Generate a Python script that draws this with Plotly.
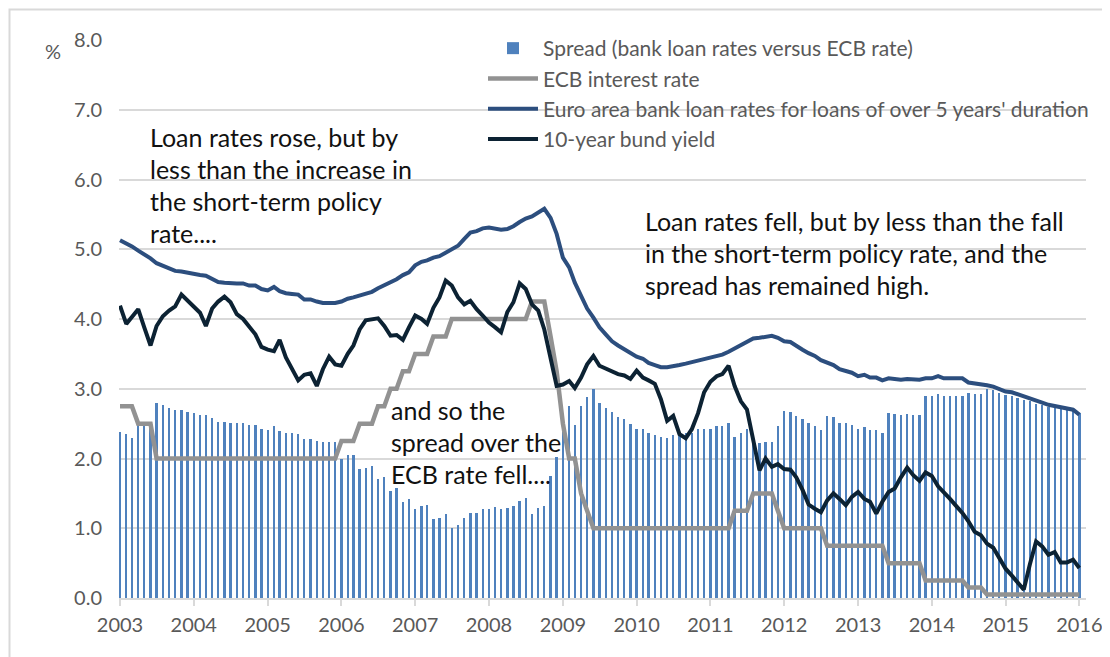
import pandas as pd
import plotly.graph_objects as go

# monthly observations, Jan 2003 - Jan 2016
months = pd.date_range("2003-01-01", periods=157, freq="MS")

spread = [
    2.38, 2.35, 2.30, 2.46, 2.49, 2.48, 2.80, 2.76, 2.72, 2.69, 2.69, 2.66,  # 2003
    2.65, 2.63, 2.62, 2.58, 2.53, 2.52, 2.51, 2.51, 2.51, 2.48, 2.48, 2.43,  # 2004
    2.41, 2.46, 2.40, 2.37, 2.36, 2.35, 2.28, 2.28, 2.25, 2.23, 2.23, 2.23,  # 2005
    2.00, 2.05, 2.05, 1.85, 1.87, 1.89, 1.70, 1.73, 1.53, 1.57, 1.38, 1.42,  # 2006
    1.27, 1.32, 1.33, 1.13, 1.15, 1.20, 1.00, 1.05, 1.15, 1.22, 1.22, 1.27,  # 2007
    1.27, 1.30, 1.28, 1.29, 1.32, 1.39, 1.44, 1.21, 1.29, 1.32, 1.75, 2.02,  # 2008
    2.38, 2.75, 2.48, 2.75, 2.88, 3.00, 2.80, 2.73, 2.67, 2.60, 2.56, 2.49,  # 2009
    2.43, 2.42, 2.36, 2.33, 2.31, 2.30, 2.33, 2.36, 2.37, 2.37, 2.42, 2.43,  # 2010
    2.43, 2.47, 2.47, 2.51, 2.31, 2.37, 2.42, 2.22, 2.22, 2.23, 2.24, 2.47,  # 2011
    2.68, 2.67, 2.61, 2.56, 2.51, 2.47, 2.41, 2.61, 2.59, 2.51, 2.51, 2.48,  # 2012
    2.43, 2.45, 2.41, 2.41, 2.37, 2.65, 2.64, 2.63, 2.64, 2.63, 2.63, 2.90,  # 2013
    2.90, 2.93, 2.90, 2.90, 2.90, 2.90, 2.94, 2.93, 2.92, 3.00, 2.98, 2.94,  # 2014
    2.91, 2.90, 2.87, 2.84, 2.82, 2.78, 2.77, 2.74, 2.72, 2.72, 2.69, 2.69,  # 2015
    2.65,                                                                    # 2016
]

ecb_rate = [
    2.75, 2.75, 2.75, 2.50, 2.50, 2.50, 2.00, 2.00, 2.00, 2.00, 2.00, 2.00,
    2.00, 2.00, 2.00, 2.00, 2.00, 2.00, 2.00, 2.00, 2.00, 2.00, 2.00, 2.00,
    2.00, 2.00, 2.00, 2.00, 2.00, 2.00, 2.00, 2.00, 2.00, 2.00, 2.00, 2.00,
    2.25, 2.25, 2.25, 2.50, 2.50, 2.50, 2.75, 2.75, 3.00, 3.00, 3.25, 3.25,
    3.50, 3.50, 3.50, 3.75, 3.75, 3.75, 4.00, 4.00, 4.00, 4.00, 4.00, 4.00,
    4.00, 4.00, 4.00, 4.00, 4.00, 4.00, 4.00, 4.25, 4.25, 4.25, 3.75, 3.25,
    2.50, 2.00, 2.00, 1.50, 1.25, 1.00, 1.00, 1.00, 1.00, 1.00, 1.00, 1.00,
    1.00, 1.00, 1.00, 1.00, 1.00, 1.00, 1.00, 1.00, 1.00, 1.00, 1.00, 1.00,
    1.00, 1.00, 1.00, 1.00, 1.25, 1.25, 1.25, 1.50, 1.50, 1.50, 1.50, 1.25,
    1.00, 1.00, 1.00, 1.00, 1.00, 1.00, 1.00, 0.75, 0.75, 0.75, 0.75, 0.75,
    0.75, 0.75, 0.75, 0.75, 0.75, 0.50, 0.50, 0.50, 0.50, 0.50, 0.50, 0.25,
    0.25, 0.25, 0.25, 0.25, 0.25, 0.25, 0.15, 0.15, 0.15, 0.05, 0.05, 0.05,
    0.05, 0.05, 0.05, 0.05, 0.05, 0.05, 0.05, 0.05, 0.05, 0.05, 0.05, 0.05,
    0.05,
]

loan_rate = [
    5.13, 5.09, 5.04, 4.98, 4.93, 4.87, 4.80, 4.76, 4.72, 4.69, 4.68, 4.66,
    4.65, 4.63, 4.62, 4.58, 4.53, 4.52, 4.51, 4.51, 4.51, 4.48, 4.48, 4.43,
    4.41, 4.46, 4.40, 4.37, 4.36, 4.35, 4.28, 4.28, 4.25, 4.23, 4.23, 4.23,
    4.25, 4.29, 4.31, 4.34, 4.37, 4.39, 4.44, 4.48, 4.53, 4.57, 4.63, 4.67,
    4.77, 4.82, 4.84, 4.88, 4.90, 4.95, 5.00, 5.05, 5.15, 5.24, 5.26, 5.30,
    5.31, 5.30, 5.28, 5.29, 5.33, 5.39, 5.44, 5.47, 5.53, 5.58, 5.45, 5.22,
    4.88, 4.74, 4.52, 4.32, 4.15, 4.02, 3.88, 3.78, 3.68, 3.62, 3.57, 3.51,
    3.46, 3.43, 3.37, 3.34, 3.31, 3.31, 3.32, 3.34, 3.36, 3.38, 3.41, 3.43,
    3.44, 3.47, 3.49, 3.53, 3.58, 3.63, 3.68, 3.72, 3.73, 3.74, 3.76, 3.73,
    3.68, 3.67, 3.61, 3.56, 3.51, 3.47, 3.41, 3.37, 3.34, 3.28, 3.26, 3.23,
    3.18, 3.20, 3.16, 3.16, 3.12, 3.15, 3.14, 3.13, 3.14, 3.13, 3.13, 3.15,
    3.15, 3.18, 3.15, 3.15, 3.15, 3.15, 3.09, 3.08, 3.07, 3.05, 3.03, 2.99,
    2.96, 2.95, 2.92, 2.89, 2.86, 2.82, 2.80, 2.77, 2.75, 2.73, 2.71, 2.70,
    2.63,
]

bund_yield = [
    4.19, 3.93, 4.03, 4.14, 3.88, 3.62, 3.90, 4.04, 4.12, 4.18, 4.35, 4.27,
    4.18, 4.09, 3.90, 4.15, 4.25, 4.32, 4.24, 4.07, 4.00, 3.90, 3.78, 3.60,
    3.56, 3.54, 3.70, 3.45, 3.28, 3.12, 3.20, 3.22, 3.04, 3.28, 3.46, 3.35,
    3.33, 3.50, 3.62, 3.85, 3.98, 3.99, 4.01, 3.90, 3.76, 3.77, 3.70, 3.88,
    4.05, 4.00, 3.93, 4.16, 4.31, 4.55, 4.48, 4.31, 4.21, 4.26, 4.14, 4.05,
    3.95, 3.88, 3.81, 4.10, 4.24, 4.51, 4.43, 4.21, 4.12, 3.85, 3.45, 3.04,
    3.06, 3.11, 3.01, 3.16, 3.35, 3.47, 3.33, 3.29, 3.26, 3.21, 3.19, 3.14,
    3.26, 3.16, 3.12, 3.07, 2.85, 2.54, 2.61, 2.35, 2.29, 2.42, 2.65, 2.95,
    3.10, 3.18, 3.21, 3.33, 3.04, 2.82, 2.70, 2.25, 1.83, 2.00, 1.88, 1.92,
    1.85, 1.84, 1.73, 1.55, 1.34, 1.28, 1.23, 1.40, 1.50, 1.42, 1.33, 1.45,
    1.52, 1.42, 1.38, 1.21, 1.38, 1.52, 1.57, 1.73, 1.87, 1.76, 1.68, 1.80,
    1.75, 1.60, 1.52, 1.42, 1.32, 1.22, 1.10, 0.95, 0.90, 0.78, 0.72, 0.56,
    0.42, 0.32, 0.22, 0.12, 0.48, 0.81, 0.74, 0.62, 0.66, 0.51, 0.51, 0.55,
    0.43,
]

note_left = ["Loan rates rose, but by", "less than the increase in",
             "the short-term policy", "rate...."]
note_mid = ["and so the", "spread over the", "ECB rate fell...."]
note_right = ["Loan rates fell, but by less than the fall",
              "in the short-term policy rate, and the",
              "spread has remained high."]

W, H = 1110, 657
OFF = 8  # page body margin of the html
# plot area in screen pixels
X0, X1, Y0, Y1 = 119, 1086, 40, 598
FONT = "Lato"
GREY = "#595959"


def px(x):
    return (x - X0) / (X1 - X0)


def py(y):
    return 1 - (y - Y0) / (Y1 - Y0)


fig = go.Figure()
fig.add_trace(go.Bar(x=months, y=spread, name="Spread (bank loan rates versus ECB rate)",
                     marker=dict(color="#4F81BD", line=dict(width=0)),
                     width=1.0e9))
fig.add_trace(go.Scatter(x=months, y=ecb_rate, name="ECB interest rate", mode="lines",
                         line=dict(color="#929292", width=4.5)))
fig.add_trace(go.Scatter(x=months, y=loan_rate,
                         name="Euro area bank loan rates for loans of over 5 years' duration",
                         mode="lines", line=dict(color="#2C4E7E", width=4)))
fig.add_trace(go.Scatter(x=months, y=bund_yield, name="10-year bund yield", mode="lines",
                         line=dict(color="#0C2233", width=4)))

annotations = []
for lines, x0, y0 in [(note_left, 148, 139), (note_mid, 389, 412), (note_right, 643, 223)]:
    for k, txt in enumerate(lines):
        annotations.append(dict(text=txt, xref="paper", yref="paper",
                                x=px(x0), y=py(y0 - 2 + 32 * k),
                                xanchor="left", yanchor="middle", showarrow=False,
                                font=dict(family=FONT, size=25, color="#111111")))
annotations.append(dict(text="%", xref="paper", yref="paper", x=px(53), y=py(51),
                        xanchor="center", yanchor="middle", showarrow=False,
                        font=dict(family=FONT, size=20, color=GREY)))

fig.update_layout(
    width=W, height=H,
    margin=dict(l=X0 - OFF, r=W - (X1 - OFF), t=Y0 - OFF, b=H - (Y1 - OFF)),
    paper_bgcolor="white", plot_bgcolor="white",
    font=dict(family=FONT, color=GREY),
    bargap=0,
    showlegend=True,
    legend=dict(x=px(483), y=py(28), xanchor="left", yanchor="top",
                bgcolor="rgba(0,0,0,0)", font=dict(family=FONT, size=21, color=GREY),
                tracegroupgap=0, itemwidth=50),
    annotations=annotations,
    shapes=[dict(type="rect", xref="paper", yref="paper",
                 x0=px(OFF + 1.5), x1=px(1130), y0=py(680), y1=py(OFF + 1.5),
                 line=dict(color="#D9D9D9", width=2), layer="below")],
)
for i, tr in enumerate(fig.data):
    tr.legendgroup = "g%d" % i

fig.update_xaxes(type="date", range=["2002-12-27", "2016-02-03"],
                 tick0="2003-01-01", dtick="M12", tickformat="%Y",
                 ticks="outside", ticklen=6, tickwidth=2, tickcolor="#D9D9D9",
                 showline=True, linecolor="#D9D9D9", linewidth=2, showgrid=False,
                 tickfont=dict(family=FONT, size=20, color=GREY), ticklabelstandoff=2)
fig.update_yaxes(range=[0, 8], dtick=1, tickformat=".1f", showgrid=True,
                 gridcolor="#D9D9D9", gridwidth=2, zeroline=False, showline=False,
                 tickfont=dict(family=FONT, size=20, color=GREY), ticklabelstandoff=16)

fig.write_html("out.html")
